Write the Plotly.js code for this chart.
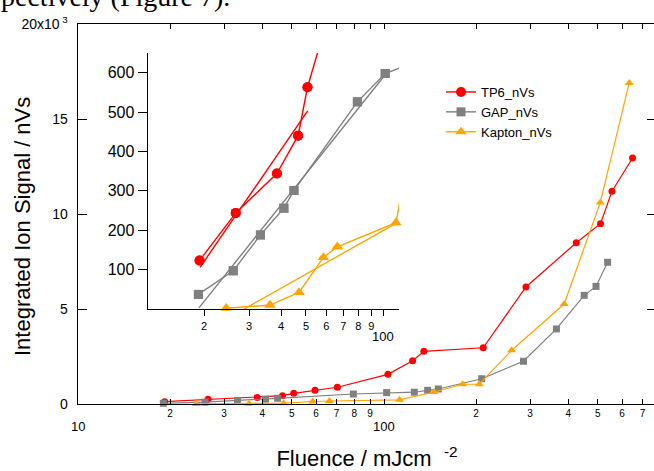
<!DOCTYPE html>
<html><head><meta charset="utf-8">
<script src="https://cdn.plot.ly/plotly-3.0.1.min.js"></script>
<style>html,body{margin:0;padding:0;overflow:hidden;background:#fff}</style>
</head><body><div id="chart" style="width:656px;height:471px"></div>
<script>
// ---- data (fluence in mJ/cm^2, signal in nVs) ----
const tp6X    = [19.2, 26.6, 38.5, 46.6, 50.7, 59.5, 70.4, 103, 124, 135, 211, 291, 425, 510, 556, 649];
const tp6Y    = [123, 244, 344, 440, 563, 720, 880, 1560, 2280, 2770, 2960, 6160, 8490, 9490, 11200, 12950];
const gapX    = [19.0, 26.0, 33.2, 41.0, 44.9, 79.4, 102, 125.6, 138.9, 150.5, 208.6, 285.6, 366, 451, 493, 538];
const gapY    = [37, 97, 188, 256, 301, 526, 598, 620, 720, 790, 1330, 2250, 3950, 5720, 6190, 7460];
const kaptonX = [24.4, 36.2, 47.0, 58.5, 66.3, 112.4, 145.7, 180.8, 204.8, 261.4, 388, 509, 633];
const kaptonY = [2, 10, 42, 131, 158, 219, 630, 1040, 1040, 2830, 5260, 10600, 16900];
// inset fit lines
const tp6FitX = [19.3, 50.8],  tp6FitY = [106, 503];
const gapFitX = [19.1, 100.9], gapFitY = [3, 591];
const kapFitX = [28.7, 112],   kapFitY = [0, 217];

const seriesNames = ['TP6_nVs', 'GAP_nVs', 'Kapton_nVs'];

// ---- tick labels ----
const mainXTickVals = [10,20,30,40,50,60,70,80,90,100,200,300,400,500,600,700];
const mainXTickText = ['','2','3','4','5','6','7','8','9','','2','3','4','5','6','7'];
const mainXMajorVals = [10, 100];
const mainXMajorText = ['10', '100'];
const mainYTickVals = [0, 5000, 10000, 15000, 20000];
const mainYTickText = ['0','5','10','15','20x10<sup>\u00A03</sup>'];
const insetXTickVals = [20,30,40,50,60,70,80,90,100];
const insetXTickText = ['2','3','4','5','6','7','8','9',''];
const insetXMajorVals = [100];
const insetXMajorText = ['100'];
const insetYTickVals = [100,200,300,400,500,600];
const insetYTickText = ['100','200','300','400','500','600'];

const colors = ['#FF0000', '#808080', '#FFA500'];
const symbols = ['circle', 'square', 'triangle-up'];
const xs = [tp6X, gapX, kaptonX], ys = [tp6Y, gapY, kaptonY];
const fitXs = [tp6FitX, gapFitX, kapFitX], fitYs = [tp6FitY, gapFitY, kapFitY];
const mainSizes = [7, 7, 8], insetSizes = [10, 9, 10];

const FONT = 'Liberation Sans, Arial, sans-serif';
const traces = [];
for (let i = 0; i < 3; i++) {
  traces.push({x: xs[i], y: ys[i], xaxis: 'x', yaxis: 'y', type: 'scatter', mode: 'lines+markers',
    name: seriesNames[i], showlegend: false, cliponaxis: false,
    line: {color: colors[i], width: 1.2}, marker: {symbol: symbols[i], size: mainSizes[i], color: colors[i]}});
}
for (let i = 0; i < 3; i++) {
  traces.push({x: fitXs[i], y: fitYs[i], xaxis: 'x2', yaxis: 'y2', type: 'scatter', mode: 'lines',
    showlegend: false, line: {color: colors[i], width: 1.4}});
  traces.push({x: xs[i], y: ys[i], xaxis: 'x2', yaxis: 'y2', type: 'scatter', mode: 'lines+markers',
    name: seriesNames[i], showlegend: true, cliponaxis: true,
    line: {color: colors[i], width: 1.4}, marker: {symbol: symbols[i], size: insetSizes[i], color: colors[i]}});
  traces.push({x: xs[i], y: ys[i], xaxis: 'x2', yaxis: 'y2', type: 'scatter', mode: 'markers',
    showlegend: false, cliponaxis: false, hoverinfo: 'skip',
    marker: {symbol: symbols[i], size: insetSizes[i], color: colors[i]}});
}

// pixel helpers for paper placement
const ML = 78, MT = 24, PW = 578, PH = 380;
const px2paperX = px => (px - ML) / PW;
const px2paperY = py => (MT + PH - py) / PH;

const annotations = [];
mainXMajorVals.forEach((v, i) => annotations.push({x: Math.log10(v), xref: 'x', y: px2paperY(426), yref: 'paper',
  text: mainXMajorText[i], showarrow: false, font: {size: 13, family: FONT, color: '#000'}, xanchor: 'center', yanchor: 'middle'}));
insetXMajorVals.forEach((v, i) => annotations.push({x: Math.log10(v), xref: 'x2', y: px2paperY(336), yref: 'paper',
  text: insetXMajorText[i], showarrow: false, font: {size: 13, family: FONT, color: '#000'}, xanchor: 'center', yanchor: 'middle'}));
annotations.push({x: px2paperX(22), xref: 'paper', y: px2paperY(227), yref: 'paper', textangle: -90,
  text: 'Integrated Ion Signal / nVs', showarrow: false, font: {size: 22, family: FONT, color: '#000'},
  xanchor: 'center', yanchor: 'middle'});
annotations.push({x: px2paperX(0), xref: 'paper', y: px2paperY(12.5), yref: 'paper',
  text: 'pectively (Figure 7).', showarrow: false, font: {size: 28, family: 'Liberation Serif, Times New Roman, serif', color: '#000'},
  xanchor: 'left', yanchor: 'bottom', borderpad: 0});

const axisCommon = {showgrid: false, zeroline: false, showline: true, linecolor: '#000', tickcolor: '#000', tickwidth: 1};
const layout = {
  width: 656, height: 471,
  margin: {l: ML, r: 0, t: MT, b: 471 - MT - PH},
  paper_bgcolor: '#fff', plot_bgcolor: 'rgba(0,0,0,0)',
  font: {family: FONT, color: '#000', size: 13},
  xaxis: Object.assign({}, axisCommon, {type: 'log', range: [1, 2.8889], domain: [0, 1], anchor: 'y',
    linewidth: 1.4, mirror: 'ticks', ticks: 'inside', ticklen: 5,
    tickvals: mainXTickVals, ticktext: mainXTickText, tickfont: {size: 10, family: FONT},
    title: {text: 'Fluence / mJcm\u00A0\u00A0<sup>-2</sup>', font: {size: 22, family: FONT}, standoff: 32}}),
  yaxis: Object.assign({}, axisCommon, {range: [0, 20000], domain: [0, 1], anchor: 'x',
    linewidth: 1.4, mirror: 'ticks', ticks: 'inside', ticklen: 9, ticklabelstandoff: 6,
    tickvals: mainYTickVals, ticktext: mainYTickText, tickfont: {size: 14, family: FONT}}),
  xaxis2: Object.assign({}, axisCommon, {type: 'log', range: [1.082, 2.0625], domain: [px2paperX(148), px2paperX(399)],
    anchor: 'y2', linewidth: 1.4, ticks: 'outside', ticklen: 6,
    tickvals: insetXTickVals, ticktext: insetXTickText, tickfont: {size: 11, family: FONT}}),
  yaxis2: Object.assign({}, axisCommon, {range: [0, 650], domain: [px2paperY(309), px2paperY(53)],
    anchor: 'x2', linewidth: 1.4, ticks: 'outside', ticklen: 9,
    tickvals: insetYTickVals, ticktext: insetYTickText, tickfont: {size: 16, family: FONT}}),
  legend: {x: px2paperX(441), y: px2paperY(77), xanchor: 'left', yanchor: 'top', bgcolor: 'rgba(0,0,0,0)',
    font: {size: 13, family: FONT}, tracegroupgap: 0},
  annotations: annotations,
  showlegend: true
};
Plotly.newPlot('chart', traces, layout, {displayModeBar: false, staticPlot: true});
</script></body></html>
